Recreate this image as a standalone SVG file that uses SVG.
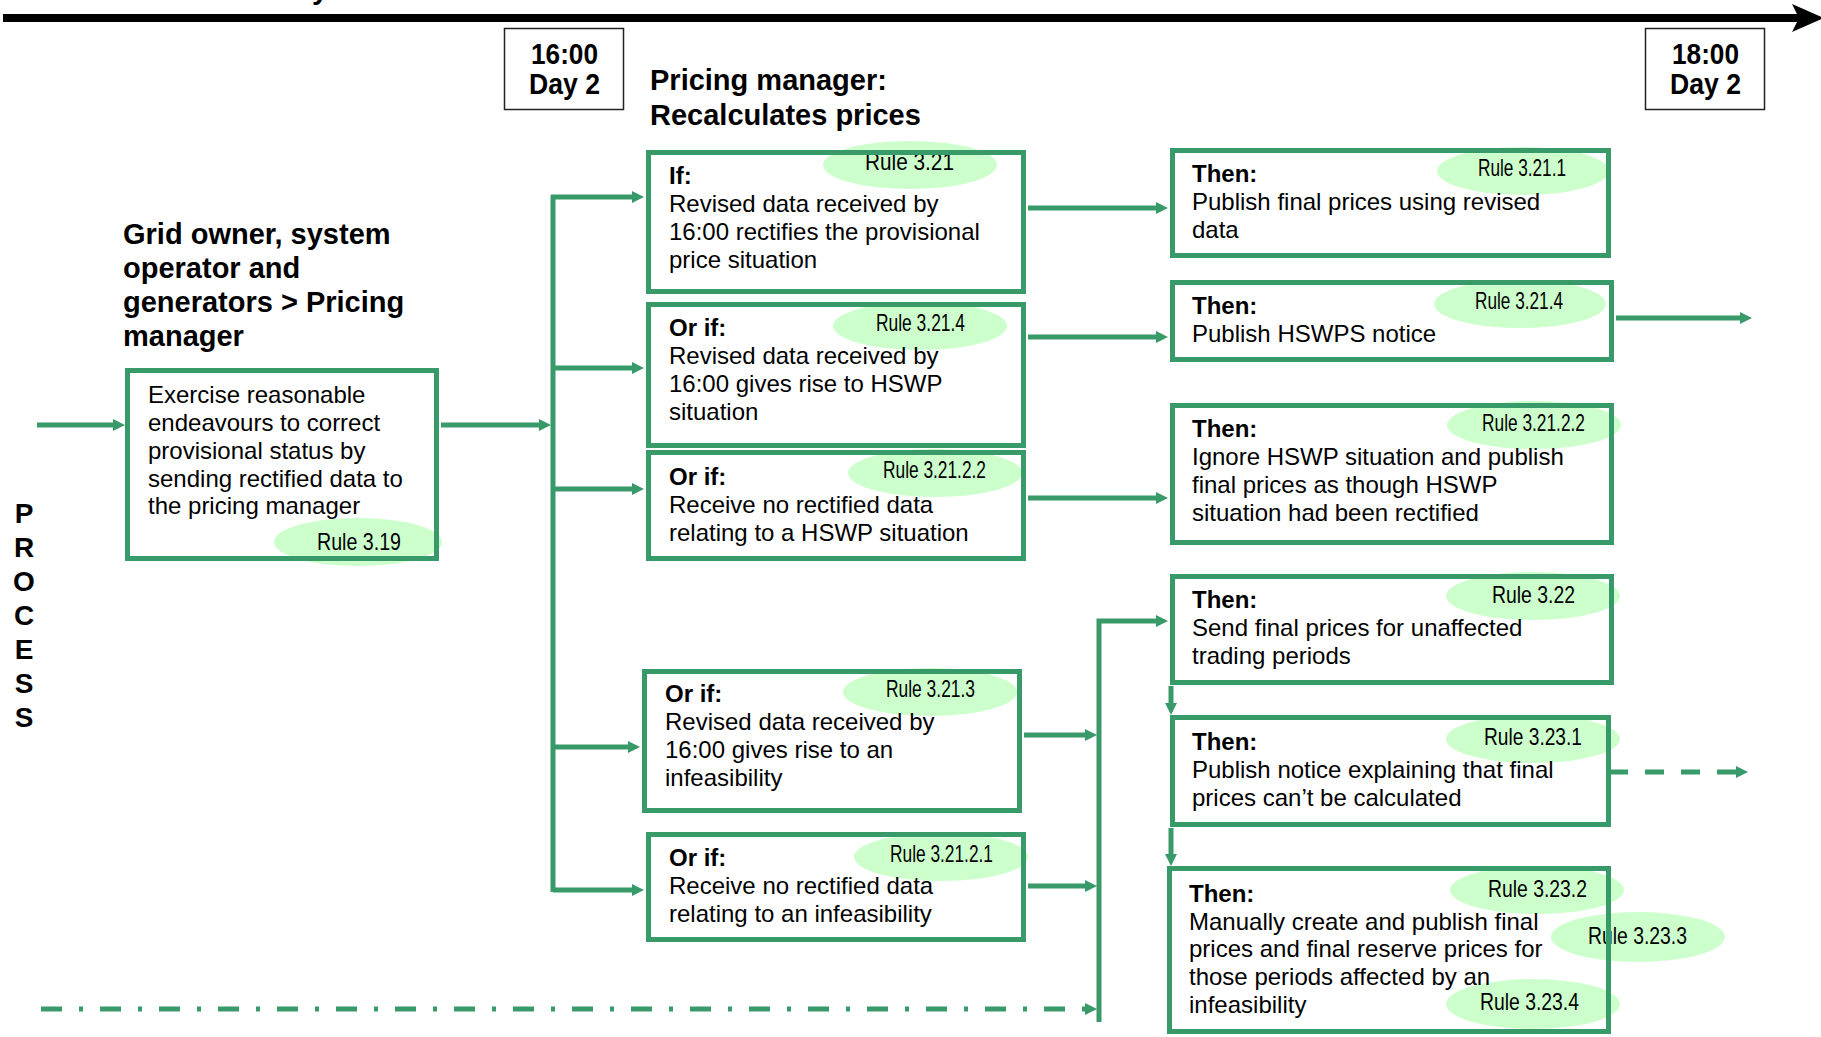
<svg xmlns="http://www.w3.org/2000/svg" width="1821" height="1037" viewBox="0 0 1821 1037">
  <style>
    .box { fill: none; stroke: #389a68; stroke-width: 5; }
    .bg { fill: #ffffff; stroke: none; }
    .tbox { fill: #ffffff; stroke: #222; stroke-width: 1.5; }
    .tag { fill: #ccffcc; stroke: none; }
    .body { font-family: "Liberation Sans", Arial, sans-serif; font-size: 24px; fill: #000; }
    .b { font-weight: bold; }
    .rule { font-family: "Liberation Sans Narrow", "Liberation Sans", Arial, sans-serif; font-size: 24px; fill: #000; }
    .time { font-family: "Liberation Sans Narrow", "Liberation Sans", Arial, sans-serif; font-size: 29px; font-weight: bold; fill: #000; }
    .head { font-family: "Liberation Sans", Arial, sans-serif; font-size: 29px; font-weight: bold; fill: #000; }
    .side { font-family: "Liberation Sans", Arial, sans-serif; font-size: 28px; font-weight: bold; text-anchor: middle; fill: #000; }
    .wire { fill: none; stroke: #389a68; stroke-width: 5; }
    .arr { marker-end: url(#ah); }
  </style>
  <defs>
    <marker id="ah" viewBox="0 0 12 12" refX="4" refY="6" markerWidth="12" markerHeight="12" markerUnits="userSpaceOnUse" orient="auto">
      <path d="M0,0 L12,6 L0,12 z" fill="#389a68"/>
    </marker>
  </defs>

  <rect width="1821" height="1037" fill="#ffffff"/>

  <!-- timeline -->
  <g id="timeline">
    <text class="head" x="275" y="-1" font-size="24">Day</text>
    <line x1="3" y1="18" x2="1800" y2="18" stroke="#000" stroke-width="8"/>
    <polygon points="1792,4 1824,18 1792,32 1799,18" fill="#000"/>
  </g>

  <g id="time-1600">
    <rect class="tbox" x="504.5" y="28.5" width="119" height="81"/>
    <text class="time" x="531" y="64" textLength="67" lengthAdjust="spacingAndGlyphs">16:00</text>
    <text class="time" x="529" y="94" textLength="71" lengthAdjust="spacingAndGlyphs">Day 2</text>
  </g>
  <g id="time-1800">
    <rect class="tbox" x="1645.5" y="28.5" width="119" height="81"/>
    <text class="time" x="1672" y="64" textLength="67" lengthAdjust="spacingAndGlyphs">18:00</text>
    <text class="time" x="1670" y="94" textLength="71" lengthAdjust="spacingAndGlyphs">Day 2</text>
  </g>

  <!-- lane headings -->
  <g id="heading-pricing">
    <text class="head" x="650" y="90">Pricing manager:</text>
    <text class="head" x="650" y="125">Recalculates prices</text>
  </g>
  <g id="heading-participants">
    <text class="head" x="123" y="244">Grid owner, system</text>
    <text class="head" x="123" y="278">operator and</text>
    <text class="head" x="123" y="312">generators &gt; Pricing</text>
    <text class="head" x="123" y="346">manager</text>
  </g>
  <g id="lane-label">
    <text class="side" x="24" y="523">P</text>
    <text class="side" x="24" y="557">R</text>
    <text class="side" x="24" y="591">O</text>
    <text class="side" x="24" y="625">C</text>
    <text class="side" x="24" y="659">E</text>
    <text class="side" x="24" y="693">S</text>
    <text class="side" x="24" y="727">S</text>
  </g>

  <!-- connectors -->
  <g id="connectors">
    <path class="wire arr" d="M37,425 H117"/>
    <path class="wire arr" d="M441,425 H543"/>
    <path class="wire" d="M553,195 V892"/>
    <path class="wire arr" d="M551,197 H636"/>
    <path class="wire arr" d="M553,368 H636"/>
    <path class="wire arr" d="M553,489 H636"/>
    <path class="wire arr" d="M553,747 H632"/>
    <path class="wire arr" d="M553,890 H636"/>
    <path class="wire arr" d="M1028,208 H1160"/>
    <path class="wire arr" d="M1028,337 H1160"/>
    <path class="wire arr" d="M1028,498 H1160"/>
    <path class="wire arr" d="M1024,735 H1089"/>
    <path class="wire arr" d="M1028,886 H1089"/>
    <path class="wire arr" d="M1099,1022 V621 H1160"/>
    <path class="wire arr" d="M41,1009 H1089" stroke-dasharray="21 17 4 17"/>
    <path class="wire arr" d="M1171,686 V707"/>
    <path class="wire arr" d="M1171,828 V858"/>
    <path class="wire arr" d="M1616,318 H1744"/>
    <path class="wire arr" d="M1609,772 H1740" stroke-dasharray="19 17"/>
  </g>

  <!-- participant action -->
  <g id="node-endeavours">
    <rect class="bg" x="127.5" y="370.5" width="309" height="188"/>
    <ellipse class="tag" cx="358" cy="542" rx="84" ry="24"/>
    <text class="rule" x="317" y="550" textLength="84" lengthAdjust="spacingAndGlyphs">Rule 3.19</text>
    <rect class="box" x="127.5" y="370.5" width="309" height="188"/>
    <text class="body"><tspan x="148" y="403">Exercise reasonable</tspan><tspan x="148" y="431">endeavours to correct</tspan><tspan x="148" y="459">provisional status by</tspan><tspan x="148" y="487">sending rectified data to</tspan><tspan x="148" y="514">the pricing manager</tspan></text>
  </g>

  <!-- conditions -->
  <g id="node-if-rectifies">
    <rect class="bg" x="648.5" y="152.5" width="375" height="139"/>
    <ellipse class="tag" cx="910" cy="165" rx="87" ry="24"/>
    <text class="rule" x="865" y="170" textLength="89" lengthAdjust="spacingAndGlyphs">Rule 3.21</text>
    <rect class="box" x="648.5" y="152.5" width="375" height="139"/>
    <text class="body"><tspan class="b" x="669" y="184">If:</tspan><tspan x="669" y="212">Revised data received by</tspan><tspan x="669" y="240">16:00 rectifies the provisional</tspan><tspan x="669" y="268">price situation</tspan></text>
  </g>
  <g id="node-if-hswp">
    <rect class="bg" x="648.5" y="304.5" width="375" height="141"/>
    <ellipse class="tag" cx="920" cy="326" rx="87" ry="24"/>
    <text class="rule" x="876" y="331" textLength="89" lengthAdjust="spacingAndGlyphs">Rule 3.21.4</text>
    <rect class="box" x="648.5" y="304.5" width="375" height="141"/>
    <text class="body"><tspan class="b" x="669" y="336">Or if:</tspan><tspan x="669" y="364">Revised data received by</tspan><tspan x="669" y="392">16:00 gives rise to HSWP</tspan><tspan x="669" y="420">situation</tspan></text>
  </g>
  <g id="node-if-no-hswp-data">
    <rect class="bg" x="648.5" y="452.5" width="375" height="106"/>
    <ellipse class="tag" cx="935" cy="473" rx="87" ry="24"/>
    <text class="rule" x="883" y="478" textLength="103" lengthAdjust="spacingAndGlyphs">Rule 3.21.2.2</text>
    <rect class="box" x="648.5" y="452.5" width="375" height="106"/>
    <text class="body"><tspan class="b" x="669" y="485">Or if:</tspan><tspan x="669" y="513">Receive no rectified data</tspan><tspan x="669" y="541">relating to a HSWP situation</tspan></text>
  </g>
  <g id="node-if-infeasible">
    <rect class="bg" x="644.5" y="671.5" width="375" height="139"/>
    <ellipse class="tag" cx="930" cy="692" rx="87" ry="24"/>
    <text class="rule" x="886" y="697" textLength="89" lengthAdjust="spacingAndGlyphs">Rule 3.21.3</text>
    <rect class="box" x="644.5" y="671.5" width="375" height="139"/>
    <text class="body"><tspan class="b" x="665" y="702">Or if:</tspan><tspan x="665" y="730">Revised data received by</tspan><tspan x="665" y="758">16:00 gives rise to an</tspan><tspan x="665" y="786">infeasibility</tspan></text>
  </g>
  <g id="node-if-no-infeasibility-data">
    <rect class="bg" x="648.5" y="834.5" width="375" height="105"/>
    <ellipse class="tag" cx="941" cy="857" rx="87" ry="24"/>
    <text class="rule" x="890" y="862" textLength="103" lengthAdjust="spacingAndGlyphs">Rule 3.21.2.1</text>
    <rect class="box" x="648.5" y="834.5" width="375" height="105"/>
    <text class="body"><tspan class="b" x="669" y="866">Or if:</tspan><tspan x="669" y="894">Receive no rectified data</tspan><tspan x="669" y="922">relating to an infeasibility</tspan></text>
  </g>

  <!-- outcomes -->
  <g id="node-then-publish-final">
    <rect class="bg" x="1172.5" y="150.5" width="436" height="105"/>
    <ellipse class="tag" cx="1523" cy="171" rx="86" ry="24"/>
    <text class="rule" x="1478" y="176" textLength="88" lengthAdjust="spacingAndGlyphs">Rule 3.21.1</text>
    <rect class="box" x="1172.5" y="150.5" width="436" height="105"/>
    <text class="body"><tspan class="b" x="1192" y="182">Then:</tspan><tspan x="1192" y="210">Publish final prices using revised</tspan><tspan x="1192" y="238">data</tspan></text>
  </g>
  <g id="node-then-hswps-notice">
    <rect class="bg" x="1172.5" y="282.5" width="439" height="77"/>
    <ellipse class="tag" cx="1520" cy="304" rx="86" ry="24"/>
    <text class="rule" x="1475" y="309" textLength="88" lengthAdjust="spacingAndGlyphs">Rule 3.21.4</text>
    <rect class="box" x="1172.5" y="282.5" width="439" height="77"/>
    <text class="body"><tspan class="b" x="1192" y="314">Then:</tspan><tspan x="1192" y="342">Publish HSWPS notice</tspan></text>
  </g>
  <g id="node-then-ignore-hswp">
    <rect class="bg" x="1172.5" y="405.5" width="439" height="137"/>
    <ellipse class="tag" cx="1534" cy="425" rx="87" ry="24"/>
    <text class="rule" x="1482" y="431" textLength="103" lengthAdjust="spacingAndGlyphs">Rule 3.21.2.2</text>
    <rect class="box" x="1172.5" y="405.5" width="439" height="137"/>
    <text class="body"><tspan class="b" x="1192" y="437">Then:</tspan><tspan x="1192" y="465">Ignore HSWP situation and publish</tspan><tspan x="1192" y="493">final prices as though HSWP</tspan><tspan x="1192" y="521">situation had been rectified</tspan></text>
  </g>
  <g id="node-then-unaffected">
    <rect class="bg" x="1172.5" y="576.5" width="439" height="106"/>
    <ellipse class="tag" cx="1533" cy="596" rx="87" ry="24"/>
    <text class="rule" x="1492" y="603" textLength="83" lengthAdjust="spacingAndGlyphs">Rule 3.22</text>
    <rect class="box" x="1172.5" y="576.5" width="439" height="106"/>
    <text class="body"><tspan class="b" x="1192" y="608">Then:</tspan><tspan x="1192" y="636">Send final prices for unaffected</tspan><tspan x="1192" y="664">trading periods</tspan></text>
  </g>
  <g id="node-then-notice">
    <rect class="bg" x="1172.5" y="717.5" width="436" height="107"/>
    <ellipse class="tag" cx="1533" cy="739" rx="87" ry="24"/>
    <text class="rule" x="1484" y="745" textLength="98" lengthAdjust="spacingAndGlyphs">Rule 3.23.1</text>
    <rect class="box" x="1172.5" y="717.5" width="436" height="107"/>
    <text class="body"><tspan class="b" x="1192" y="750">Then:</tspan><tspan x="1192" y="778">Publish notice explaining that final</tspan><tspan x="1192" y="806">prices can’t be calculated</tspan></text>
  </g>
  <g id="node-then-manual">
    <rect class="bg" x="1169.5" y="868.5" width="439" height="163"/>
    <ellipse class="tag" cx="1537" cy="890" rx="87" ry="24"/>
    <ellipse class="tag" cx="1638" cy="937" rx="87" ry="25"/>
    <ellipse class="tag" cx="1533" cy="1004" rx="87" ry="25"/>
    <text class="rule" x="1488" y="897" textLength="99" lengthAdjust="spacingAndGlyphs">Rule 3.23.2</text>
    <text class="rule" x="1588" y="944" textLength="99" lengthAdjust="spacingAndGlyphs">Rule 3.23.3</text>
    <text class="rule" x="1480" y="1010" textLength="99" lengthAdjust="spacingAndGlyphs">Rule 3.23.4</text>
    <rect class="box" x="1169.5" y="868.5" width="439" height="163"/>
    <text class="body"><tspan class="b" x="1189" y="902">Then:</tspan><tspan x="1189" y="930">Manually create and publish final</tspan><tspan x="1189" y="957">prices and final reserve prices for</tspan><tspan x="1189" y="985">those periods affected by an</tspan><tspan x="1189" y="1013">infeasibility</tspan></text>
  </g>
</svg>
